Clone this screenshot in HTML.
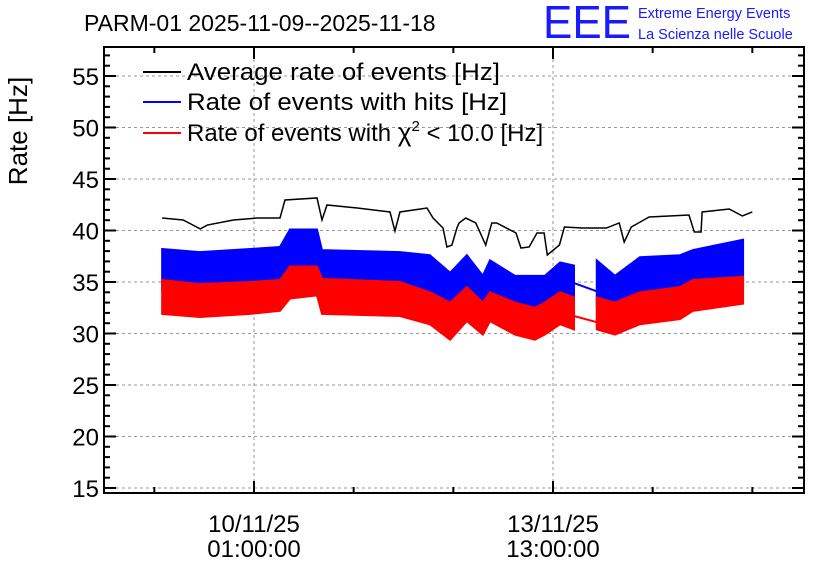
<!DOCTYPE html>
<html><head><meta charset="utf-8"><style>
body{margin:0;background:#fff;}
svg{display:block;font-family:"Liberation Sans",sans-serif;}
</style></head><body>
<svg id="chart" width="836" height="572" viewBox="0 0 836 572">
<text x="84" y="31" font-size="23">PARM-01 2025-11-09--2025-11-18</text>
<text x="543" y="38" font-size="46" fill="#1a1aff" textLength="88" lengthAdjust="spacingAndGlyphs">EEE</text>
<text x="638" y="18" font-size="14.5" fill="#1a1aff">Extreme Energy Events</text>
<text x="638" y="39" font-size="14.5" fill="#1a1aff">La Scienza nelle Scuole</text>
<text transform="translate(27,131) rotate(-90)" font-size="26" text-anchor="middle">Rate [Hz]</text>
<g id="grid"></g><g id="series"></g><g id="axes"></g>
<g>
<line x1="143" y1="72" x2="181" y2="72" stroke="#000" stroke-width="2"/>
<text x="187" y="80" font-size="24" textLength="313" lengthAdjust="spacingAndGlyphs">Average rate of events [Hz]</text>
<line x1="143" y1="102" x2="181" y2="102" stroke="#00f" stroke-width="2"/>
<text x="187" y="110" font-size="24" textLength="320" lengthAdjust="spacingAndGlyphs">Rate of events with hits [Hz]</text>
<line x1="143" y1="133" x2="181" y2="133" stroke="#f00" stroke-width="2"/>
<text x="187" y="141" font-size="24">Rate of events with <tspan font-size="26">χ</tspan><tspan dy="-10" font-size="15">2</tspan><tspan dy="10"> &lt; 10.0 [Hz]</tspan></text>
</g>
<g>
<text x="254" y="532" font-size="24" text-anchor="middle">10/11/25</text>
<text x="254" y="557" font-size="24" text-anchor="middle">01:00:00</text>
<text x="553" y="532" font-size="24" text-anchor="middle">13/11/25</text>
<text x="553" y="557" font-size="24" text-anchor="middle">13:00:00</text>
</g>
</svg>
<script>
// hours since 2025-11-09 00:00
const avgTimes=[-0.8,5.1,9.9,11.9,19.2,25.8,32.3,33.7,42.7,44.1,45.5,54,63.2,64.6,66,73.6,75.3,78.1,79.2,80.6,82,82.6,84.5,87.3,90.1,91.8,93.2,98.6,100,102.3,104.5,106.5,107.4,110.8,112.2,117.2,120,124,127.6,129,131,136,147.2,148.7,150.6,150.9,158.5,162.2,165];
const avgVals=[41.21,41.02,40.15,40.53,41.02,41.21,41.21,42.96,43.16,41.02,42.48,42.18,41.8,39.95,41.8,42.18,41.21,40.24,38.4,38.59,40.24,40.73,41.21,40.73,38.59,40.73,40.73,39.76,38.3,38.4,39.76,39.76,37.62,38.59,40.34,40.24,40.24,40.24,40.73,38.88,40.34,41.31,41.5,39.85,39.85,41.8,42.09,41.41,41.8];
const bandTimes=[-0.8,9.8,23.9,32.3,35.1,42.7,44.1,66,74.4,80.1,84.8,89.3,91.3,98.3,103.9,106.7,111,114.9,121.3,126.4,133.4,144.7,148.3,162.4];
const hitsHi=[38.2,37.9,38.2,38.4,40.1,40.1,38.1,37.9,37.6,35.9,37.6,35.6,37.1,35.6,35.6,35.6,36.9,36.6,37.1,35.6,37.4,37.6,38.1,39.1];
const hitsLo=[34.2,33.9,34.2,34.4,35.6,35.8,34.2,33.9,33.0,31.8,33.4,31.9,33.2,31.9,31.5,31.9,33.0,32.6,32.6,32.0,33.1,33.5,34.3,34.8];
const chiHi=[35.2,34.8,35.0,35.2,36.5,36.5,35.3,35.0,34.0,33.0,34.5,33.0,34.0,33.0,32.5,33.0,34.0,33.5,33.5,33.0,34.0,34.5,35.2,35.5];
const chiLo=[31.9,31.6,31.9,32.2,33.4,33.7,31.9,31.7,30.9,29.4,31.2,29.9,31.2,29.9,29.4,29.9,30.9,30.4,30.4,29.9,30.9,31.4,32.2,32.9];
const gapStart=18; // index of first point after data gap
const hitsGap=[34.9,34.1];
const chiGap=[31.7,31.1];
const yTicks=[15,20,25,30,35,40,45,50,55];
const xMajorTimes=[25,109];
const L=104,R=804,T=47,B=493;
const X=h=>254+(h-25)*3.5595;
const Y=v=>488-(v-15)*10.3;
const NS="http://www.w3.org/2000/svg";
function mk(parent,tag,attrs){const e=document.createElementNS(NS,tag);for(const k in attrs)e.setAttribute(k,attrs[k]);document.getElementById(parent).appendChild(e);return e;}
for(const v of yTicks){const g=mk('grid','line',{x1:L,x2:R,y1:Y(v),y2:Y(v),stroke:'#999','stroke-dasharray':'3,3','stroke-width':1});

}
for(const h of xMajorTimes){const g=mk('grid','line',{x1:X(h),x2:X(h),y1:T,y2:B,stroke:'#999','stroke-dasharray':'3,3','stroke-width':1});

}
function band(hi,lo,from,to,color,name){let pts=[];for(let i=from;i<to;i++)pts.push(X(bandTimes[i])+','+Y(hi[i]));for(let i=to-1;i>=from;i--)pts.push(X(bandTimes[i])+','+Y(lo[i]));
const p=mk('series','polygon',{points:pts.join(' '),fill:color,stroke:color,'stroke-width':2,'stroke-linejoin':'miter'});

}
function gapLine(gap,color,name){const l=mk('series','line',{x1:X(bandTimes[gapStart-1]),y1:Y(gap[0]),x2:X(bandTimes[gapStart]),y2:Y(gap[1]),stroke:color,'stroke-width':2});

}
band(hitsHi,hitsLo,0,gapStart,'#0000ff','hits-band-1');
band(hitsHi,hitsLo,gapStart,bandTimes.length,'#0000ff','hits-band-2');
gapLine(hitsGap,'#0000ff','hits-gap-line');
band(chiHi,chiLo,0,gapStart,'#ff0000','chi2-band-1');
band(chiHi,chiLo,gapStart,bandTimes.length,'#ff0000','chi2-band-2');
gapLine(chiGap,'#ff0000','chi2-gap-line');
const avg=mk('series','polyline',{points:avgTimes.map((t,i)=>X(t)+','+Y(avgVals[i])).join(' '),fill:'none',stroke:'#000','stroke-width':1.5});


const fr=mk('axes','rect',{x:L,y:T,width:R-L,height:B-T,fill:'none',stroke:'#000','stroke-width':2});


for(let v=15;v<=57;v++){const major=v%5===0;const len=major?12:6;
mk('axes','line',{x1:L,x2:L+len,y1:Y(v),y2:Y(v),stroke:'#000','stroke-width':2});
mk('axes','line',{x1:R,x2:R-len,y1:Y(v),y2:Y(v),stroke:'#000','stroke-width':2});}
for(const v of yTicks){const t=mk('axes','text',{x:L-5,y:Y(v)+9,'font-size':24,'text-anchor':'end'});t.textContent=v;

}
for(let h=-3;h<=170;h+=28){const major=xMajorTimes.includes(h);const len=major?12:6;
mk('axes','line',{x1:X(h),x2:X(h),y1:B,y2:B-len,stroke:'#000','stroke-width':2});
mk('axes','line',{x1:X(h),x2:X(h),y1:T,y2:T+len,stroke:'#000','stroke-width':2});}
</script>
</body></html>
